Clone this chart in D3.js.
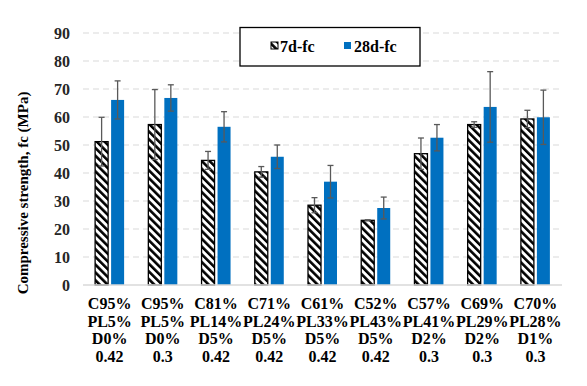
<!DOCTYPE html>
<html><head><meta charset="utf-8">
<script src="https://cdn.jsdelivr.net/npm/d3@7"></script>
<style>body{margin:0;background:#fff} svg text{font-family:"Liberation Serif","Times New Roman",Times,serif;font-weight:bold}</style>
</head><body>
<svg id="c" width="587" height="386"></svg>
<script>
const categories = [
  ["C95%","PL5%","D0%","0.42"],
  ["C95%","PL5%","D0%","0.3"],
  ["C81%","PL14%","D5%","0.42"],
  ["C71%","PL24%","D5%","0.42"],
  ["C61%","PL33%","D5%","0.42"],
  ["C52%","PL43%","D5%","0.42"],
  ["C57%","PL41%","D2%","0.3"],
  ["C69%","PL29%","D2%","0.3"],
  ["C70%","PL28%","D1%","0.3"]
];
const seriesNames = ["7d-fc","28d-fc"];
const fc7 = [51.2, 57.3, 44.5, 40.4, 28.5, 23.1, 46.9, 57.3, 59.3];
const err7 = [8.7, 12.5, 3.2, 1.9, 2.7, 0.2, 5.6, 1.0, 3.1];
const fc28 = [66.1, 66.8, 56.5, 45.8, 36.9, 27.5, 52.6, 63.6, 59.9];
const err28 = [6.8, 4.7, 5.4, 4.2, 5.8, 3.9, 4.7, 12.6, 9.7];
const yTicks = [0,10,20,30,40,50,60,70,80,90];

const svg = d3.select("#c");
const L = 83, R = 562, T = 33, B = 285;

const x = d3.scaleBand().domain(d3.range(categories.length)).range([L, R]);
const y = d3.scaleLinear().domain([0, 90]).range([B, T]);

const defs = svg.append("defs");
const pat = defs.append("pattern").attr("id","hatch").attr("patternUnits","userSpaceOnUse")
  .attr("width",5.5).attr("height",5.5).attr("patternTransform","rotate(-45)");
pat.append("rect").attr("width",5.5).attr("height",5.5).attr("fill","#fff");
pat.append("rect").attr("x",0).attr("y",0).attr("width",2.6).attr("height",5.5).attr("fill","#000");

// grid
svg.append("g").selectAll("line").data(yTicks.filter(d=>d>0)).join("line")
  .attr("x1",L).attr("x2",R).attr("y1",d=>y(d)).attr("y2",d=>y(d))
  .attr("stroke","#d9d9d9").attr("stroke-width",1).attr("stroke-dasharray","6,4");

// y tick labels
svg.append("g").selectAll("text").data(yTicks).join("text")
  .attr("x",70).attr("y",d=>y(d)).attr("dy","0.35em").attr("text-anchor","end")
  .style("font-size","16px").attr("fill","#262626").text(d=>d);

// y title
svg.append("text").attr("transform",`translate(28,${193}) rotate(-90)`)
  .attr("text-anchor","middle").style("font-size","15px").attr("fill","#000")
  .text("Compressive strength, fc (MPa)");

const bw = 13, gap = 3;
const g = svg.append("g");
categories.forEach((c,i)=>{
  const cx = x(i) + x.bandwidth()/2;
  const x1 = cx - gap/2 - bw, x2 = cx + gap/2;
  g.append("rect").attr("x",x1).attr("y",y(fc7[i])).attr("width",bw).attr("height",y(0)-y(fc7[i]))
    .attr("fill","url(#hatch)").attr("stroke","#000").attr("stroke-width",1.3);
  g.append("rect").attr("x",x2).attr("y",y(fc28[i])).attr("width",bw).attr("height",y(0)-y(fc28[i]))
    .attr("fill","#0070C0");
  [[x1+bw/2, fc7[i], err7[i]],[x2+bw/2, fc28[i], err28[i]]].forEach(([ex,v,e])=>{
    const eg = g.append("g").attr("stroke","#595959").attr("stroke-width",1.3);
    eg.append("line").attr("x1",ex).attr("x2",ex).attr("y1",y(v+e)).attr("y2",y(v-e));
    eg.append("line").attr("x1",ex-3).attr("x2",ex+3).attr("y1",y(v+e)).attr("y2",y(v+e));
    eg.append("line").attr("x1",ex-3).attr("x2",ex+3).attr("y1",y(v-e)).attr("y2",y(v-e));
  });
  const t = svg.append("text").attr("text-anchor","middle").style("font-size","16px").attr("fill","#000");
  c.forEach((s,k)=>{
    t.append("tspan").attr("x",cx).attr("y",309 + k*17.6).text(s);
  });
});

// x axis line
svg.append("line").attr("x1",L).attr("x2",R).attr("y1",B).attr("y2",B)
  .attr("stroke","#d9d9d9").attr("stroke-width",1.3);

// legend
const lg = svg.append("g");
lg.append("rect").attr("x",240).attr("y",27.5).attr("width",180).attr("height",38.5)
  .attr("fill","#fff").attr("stroke","#000").attr("stroke-width",1.3);
lg.append("rect").attr("x",271).attr("y",42).attr("width",7).attr("height",7)
  .attr("fill","url(#hatch)").attr("stroke","#000").attr("stroke-width",1);
lg.append("text").attr("x",280).attr("y",46).attr("dy","0.35em")
  .style("font-size","16px").text(seriesNames[0]);
lg.append("rect").attr("x",344).attr("y",42).attr("width",7).attr("height",7).attr("fill","#0070C0");
lg.append("text").attr("x",354).attr("y",46).attr("dy","0.35em")
  .style("font-size","16px").text(seriesNames[1]);
</script>
</body></html>
